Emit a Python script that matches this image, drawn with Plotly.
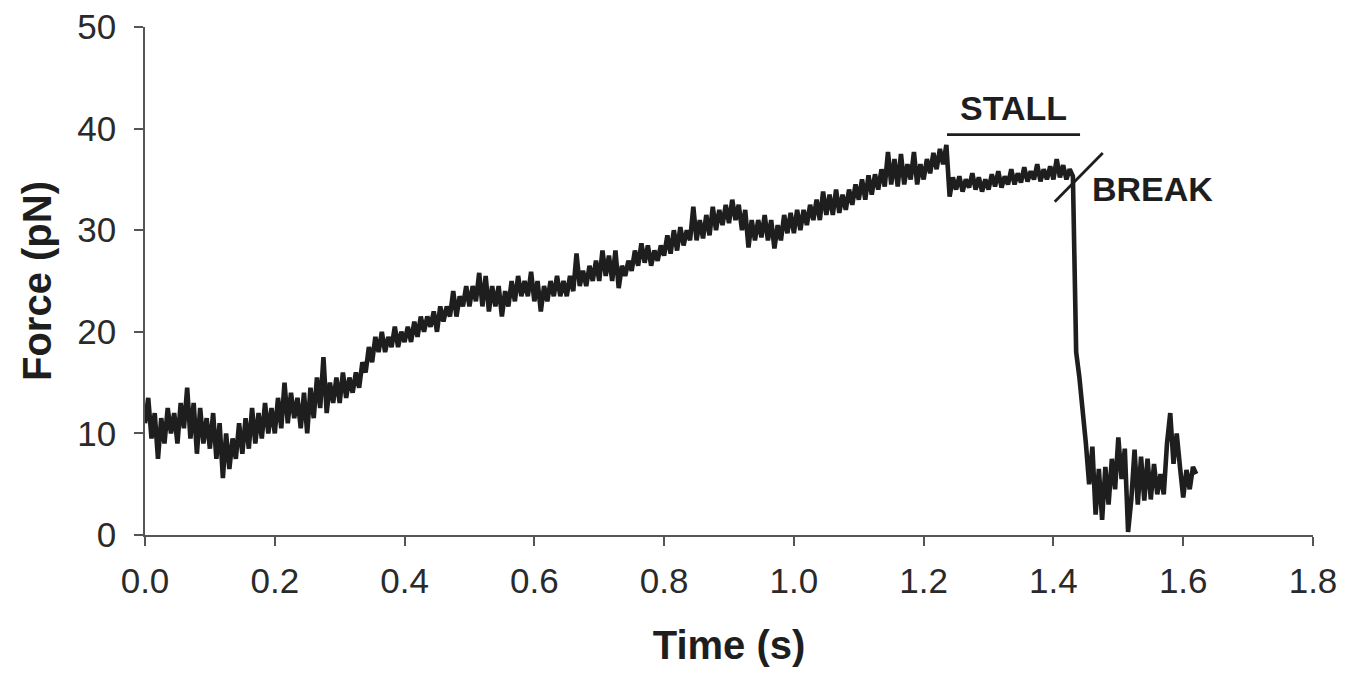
import plotly.graph_objects as go

DT = 0.005  # sampling interval (s)

force_pN = [
    11.0, 13.5, 9.5, 12.0, 7.5, 11.5, 9.0, 12.5, 10.0, 12.0,
    9.0, 13.0, 10.5, 14.5, 9.5, 13.0, 8.0, 12.5, 9.0, 11.5,
    8.5, 12.0, 7.5, 11.0, 5.6, 10.0, 6.5, 9.5, 7.5, 11.0,
    8.0, 11.5, 8.5, 12.5, 9.0, 12.0, 9.5, 13.0, 10.0, 12.5,
    10.0, 13.5, 10.5, 15.0, 11.0, 14.0, 11.5, 13.5, 10.5, 14.0,
    10.0, 14.5, 11.5, 15.5, 12.5, 17.5, 12.0, 15.0, 13.0, 15.5,
    13.0, 16.0, 13.5, 15.5, 14.0, 16.0, 14.5, 17.0, 16.0, 18.5,
    17.0, 19.5, 18.0, 20.0, 18.0, 19.5, 18.5, 20.5, 18.5, 20.0,
    19.0, 20.5, 19.0, 21.0, 19.5, 21.5, 20.0, 21.5, 20.5, 22.0,
    20.0, 22.5, 21.0, 22.5, 21.5, 24.0, 21.5, 23.5, 22.5, 24.5,
    22.5, 24.5, 23.0, 25.8, 22.5, 25.5, 22.0, 24.5, 22.5, 24.5,
    21.5, 24.0, 22.5, 25.0, 23.0, 25.5, 23.5, 25.0, 23.5, 25.9,
    23.0, 25.0, 22.0, 24.5, 23.0, 25.0, 23.5, 25.5, 23.5, 25.0,
    23.5, 25.5, 24.0, 27.7, 24.5, 26.0, 24.5, 26.5, 25.0, 27.0,
    25.0, 28.0, 25.5, 27.5, 25.0, 28.0, 24.3, 26.5, 25.5, 27.0,
    26.0, 28.0, 26.5, 28.7, 26.8, 28.5, 26.5, 28.0, 27.0, 28.5,
    27.5, 29.5, 27.7, 30.0, 28.0, 30.3, 28.5, 30.0, 29.0, 32.3,
    29.0, 31.0, 29.2, 31.5, 29.5, 32.3, 30.0, 32.0, 30.5, 32.5,
    30.7, 33.0, 31.0, 32.5, 30.0, 32.0, 28.3, 31.0, 29.0, 31.0,
    29.3, 31.5, 29.0, 31.0, 28.2, 30.5, 29.0, 31.5, 29.7, 31.7,
    29.7, 32.0, 30.0, 32.0, 30.5, 32.5, 31.0, 33.0, 31.0, 33.8,
    31.5, 33.5, 31.5, 34.0, 31.7, 33.5, 32.0, 34.0, 32.5, 34.5,
    33.0, 35.0, 33.0, 35.4, 33.5, 35.5, 34.0, 36.0, 34.3, 37.7,
    34.5, 37.0, 34.3, 37.5, 34.5, 36.5, 35.0, 37.7, 34.5, 36.5,
    35.0, 37.0, 35.6, 37.6, 36.0, 38.0, 36.5, 38.4, 33.3, 35.2,
    34.0, 35.3, 33.8, 35.0, 34.2, 35.6, 34.0, 35.2, 33.8, 35.0,
    34.0, 35.5, 34.3, 35.8, 34.2, 35.3, 34.5, 36.0, 34.5, 35.6,
    34.7, 36.2, 34.8, 35.8, 35.0, 36.5, 34.8, 36.0, 35.0, 36.3,
    35.0, 37.0, 35.2, 36.4, 35.0, 36.0, 35.3, 18.0, 15.5, 12.5,
    9.0, 5.0, 8.7, 2.0, 6.5, 1.5, 6.7, 3.0, 7.5, 4.5,
    9.6, 5.5, 8.5, 0.3, 3.5, 8.4, 3.0, 7.7, 3.4, 7.5,
    3.5, 7.0, 4.0, 6.0, 4.0, 9.0, 12.0, 7.0, 10.0, 6.7,
    3.7, 6.4, 4.5, 6.7, 6.0,
]
time_s = [round(i * DT, 4) for i in range(len(force_pN))]

x_ticks = [0.0, 0.2, 0.4, 0.6, 0.8, 1.0, 1.2, 1.4, 1.6, 1.8]
y_ticks = [0, 10, 20, 30, 40, 50]

FONT = "Liberation Sans, Arial, sans-serif"
INK = "#1e1e1e"

fig = go.Figure()
fig.add_trace(go.Scatter(
    x=time_s, y=force_pN, mode="lines",
    line=dict(color=INK, width=4.6),
    showlegend=False, hoverinfo="skip",
))

# STALL bar and BREAK slash
fig.add_shape(type="line", x0=1.236, x1=1.441, y0=39.4, y1=39.4,
              line=dict(color=INK, width=2.8))
fig.add_shape(type="line", x0=1.402, x1=1.476, y0=32.8, y1=37.6,
              line=dict(color=INK, width=2.8))
fig.add_annotation(x=1.338, y=42.0, text="<b>STALL</b>", showarrow=False,
                   font=dict(family=FONT, size=34, color=INK))
fig.add_annotation(x=1.553, y=34.1, text="<b>BREAK</b>", showarrow=False,
                   font=dict(family=FONT, size=34, color=INK))

axis_common = dict(
    showline=True, linecolor="#555555", linewidth=1.5,
    ticks="outside", ticklen=9, tickwidth=1.5, tickcolor="#555555",
    showgrid=False, zeroline=False, automargin=False,
    ticklabeloverflow="allow",
    tickfont=dict(family=FONT, size=35, color="#2a2a2a"),
)

fig.update_xaxes(
    range=[0, 1.8], tickvals=x_ticks, tickformat=".1f",
    title=dict(text="<b>Time (s)</b>", font=dict(family=FONT, size=40, color=INK), standoff=32),
    ticklabelstandoff=5,
    **axis_common,
)
fig.update_yaxes(
    range=[0, 50], tickvals=y_ticks,
    title=dict(text="<b>Force (pN)</b>", font=dict(family=FONT, size=40, color=INK), standoff=13),
    ticklabelstandoff=11,
    **axis_common,
)

# the page body adds an 8 px offset, so margins are set 8 px smaller on left/top
fig.update_layout(
    width=1358, height=675,
    margin=dict(l=137, r=53, t=19, b=148),
    plot_bgcolor="white", paper_bgcolor="white",
)

fig.write_html("out.html")
